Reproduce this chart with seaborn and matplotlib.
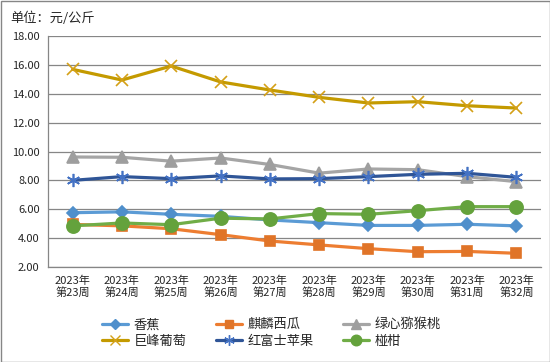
import matplotlib
matplotlib.use("Agg")
import matplotlib.pyplot as plt
import numpy as np
import pandas as pd
import seaborn as sns
from matplotlib.lines import Line2D
from matplotlib.patches import Rectangle

weeks = ["2023年\n第23周", "2023年\n第24周", "2023年\n第25周", "2023年\n第26周", "2023年\n第27周",
         "2023年\n第28周", "2023年\n第29周", "2023年\n第30周", "2023年\n第31周", "2023年\n第32周"]

banana = [5.76, 5.82, 5.65, 5.51, 5.26, 5.07, 4.88, 4.88, 4.96, 4.85]
watermelon = [4.95, 4.85, 4.65, 4.24, 3.80, 3.53, 3.27, 3.06, 3.08, 2.95]
kiwi = [9.62, 9.60, 9.33, 9.55, 9.10, 8.50, 8.79, 8.74, 8.26, 7.91]
grape = [15.69, 14.95, 15.92, 14.82, 14.26, 13.75, 13.36, 13.45, 13.17, 13.01]
apple = [8.00, 8.26, 8.12, 8.31, 8.10, 8.12, 8.26, 8.42, 8.49, 8.21]
orange = [4.85, 5.05, 4.93, 5.38, 5.33, 5.70, 5.65, 5.90, 6.18, 6.18]

series_names = ["香蕉", "麒麟西瓜", "绿心猕猴桃", "巨峰葡萄", "红富士苹果", "椪柑"]
series_values = [banana, watermelon, kiwi, grape, apple, orange]
line_colors = ["#5B9BD5", "#ED7D31", "#A5A5A5", "#C49A00", "#2F5597", "#70AD47"]
marker_colors = ["#4F8FCB", "#E07428", "#9E9E9E", "#D4A017", "#4472C4", "#64A23C"]
markers = ["D", "s", "^", "x", (6, 2, 0), "o"]
marker_sizes = [6.5, 6.5, 8.5, 9, 9.5, 9.5]

sns.set_theme(style="white")
plt.rcParams["font.family"] = ["Noto Sans CJK SC", "DejaVu Sans"]

rows = []
for name, vals in zip(series_names, series_values):
    for i, v in enumerate(vals):
        rows.append({"fruit": name, "pos": i, "price": v})
df = pd.DataFrame(rows)

fig = plt.figure(figsize=(5.5, 3.62), dpi=100)
ax = fig.add_axes([48 / 550, 1 - 267 / 362, 493 / 550, 231 / 362])

for name, lc, mc, mk, ms in zip(series_names, line_colors, marker_colors, markers, marker_sizes):
    sub = df[df["fruit"] == name]
    sns.lineplot(data=sub, x="pos", y="price", ax=ax, color=lc, linewidth=2.3,
                 marker=mk, markersize=ms, markerfacecolor=mc, markeredgecolor=mc,
                 markeredgewidth=1.2, legend=False)

ax.set_xlim(-0.5, 9.5)
ax.set_ylim(2, 18)
ax.set_yticks(np.arange(2, 18.1, 2))
ax.set_yticklabels([f"{v:.2f}" for v in np.arange(2, 18.1, 2)], fontsize=8)
ax.set_xticks(range(len(weeks)))
ax.set_xticklabels(weeks, fontsize=8, linespacing=1.15)
ax.set_xticks(np.arange(-0.5, 9.6, 1), minor=True)
ax.tick_params(axis="x", which="major", length=0, pad=6)
ax.tick_params(axis="x", which="minor", length=5, color="#868686", width=0.8, direction="out")
ax.tick_params(axis="y", length=4, color="#868686", width=0.8, direction="out", pad=2)
ax.set_xlabel("")
ax.set_ylabel("")
ax.yaxis.grid(True, color="#868686", linewidth=0.9)
ax.set_axisbelow(True)
for side in ["top", "right"]:
    ax.spines[side].set_visible(False)
for side in ["left", "bottom"]:
    ax.spines[side].set_color("#868686")
    ax.spines[side].set_linewidth(0.9)

fig.text(10 / 550, 1 - 18 / 362, "单位：元/公斤", fontsize=9.5, va="center", ha="left")

handles = [Line2D([0], [0], color=lc, linewidth=2.3, marker=mk, markersize=ms * 0.8,
                  markerfacecolor=mc, markeredgecolor=mc)
           for lc, mc, mk, ms in zip(line_colors, marker_colors, markers, marker_sizes)]
# legend fills column by column; reorder so rows read like the reference
order = [0, 3, 1, 4, 2, 5]
fig.legend([handles[i] for i in order], [series_names[i] for i in order], loc="center left",
           bbox_to_anchor=(90 / 550, 1 - 333 / 362), ncol=3,
           frameon=False, fontsize=9.5, handlelength=2.0, columnspacing=2.2, handletextpad=0.4,
           labelspacing=0.25)

fig.patches.append(Rectangle((0.5 / 550, 0.5 / 362), 1 - 1 / 550, 1 - 1 / 362, transform=fig.transFigure,
                             fill=False, edgecolor="#868686", linewidth=1))

fig.savefig("out.png", dpi=100)
